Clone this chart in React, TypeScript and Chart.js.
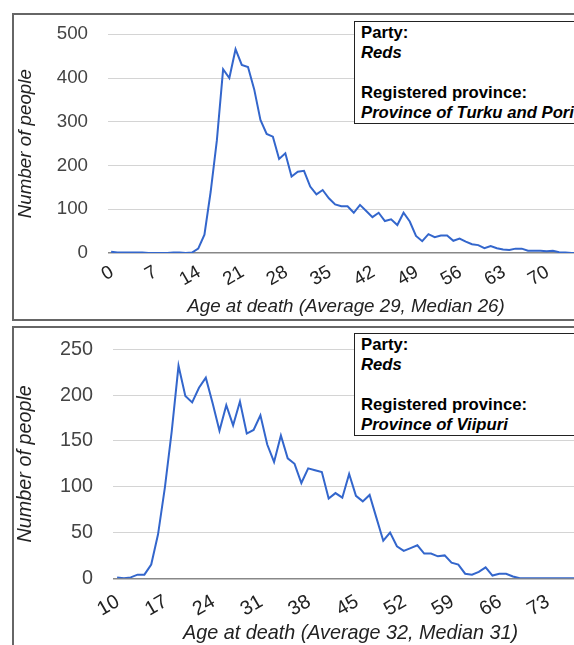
import React, { useEffect, useRef } from "react";
import { Chart, registerables } from "chart.js";

Chart.register(...registerables);

// ---- Data: Province of Turku and Pori ----
const turkuAges = [
  0, 1, 2, 3, 4, 5, 6, 7, 8, 9, 10, 11, 12, 13, 14, 15, 16, 17, 18, 19,
  20, 21, 22, 23, 24, 25, 26, 27, 28, 29, 30, 31, 32, 33, 34, 35, 36, 37, 38, 39,
  40, 41, 42, 43, 44, 45, 46, 47, 48, 49, 50, 51, 52, 53, 54, 55, 56, 57, 58, 59,
  60, 61, 62, 63, 64, 65, 66, 67, 68, 69, 70, 71, 72, 73, 74, 75, 76,
];
const turkuCounts = [
  3, 1, 1, 1, 1, 1, 0, 0, 0, 0, 1, 1, 0, 1, 10, 42, 140, 258, 420, 400,
  466, 430, 425, 374, 304, 272, 266, 215, 228, 175, 186, 188, 152, 134, 144, 125, 111, 107, 107, 92,
  110, 96, 82, 92, 73, 77, 64, 92, 72, 39, 27, 43, 36, 40, 40, 28, 33, 26, 20, 18,
  11, 16, 11, 8, 7, 10, 10, 5, 5, 5, 4, 5, 2, 1, 0, 0, 0,
];
const turkuXTicks = [0, 7, 14, 21, 28, 35, 42, 49, 56, 63, 70];
const turkuTitle = "Age at death (Average 29, Median 26)";
const turkuProvince = "Province of Turku and Pori";

// ---- Data: Province of Viipuri ----
const viipuriAges = [
  10, 11, 12, 13, 14, 15, 16, 17, 18, 19, 20, 21, 22, 23, 24, 25, 26, 27, 28, 29,
  30, 31, 32, 33, 34, 35, 36, 37, 38, 39, 40, 41, 42, 43, 44, 45, 46, 47, 48, 49,
  50, 51, 52, 53, 54, 55, 56, 57, 58, 59, 60, 61, 62, 63, 64, 65, 66, 67, 68, 69,
  70, 71, 72, 73, 74, 75, 76, 77, 78, 79,
];
const viipuriCounts = [
  1, 0, 1, 4, 4, 15, 48, 99, 160, 232, 199, 192, 208, 219, 191, 161, 189, 167, 193, 158,
  162, 178, 146, 127, 156, 131, 125, 104, 120, 118, 116, 87, 93, 88, 114, 90, 84, 91, 66, 41,
  50, 35, 30, 33, 36, 27, 27, 24, 25, 17, 15, 5, 4, 7, 12, 3, 5, 5, 2, 0,
  0, 0, 0, 0, 0, 0, 0, 0, 0, 0,
];
const viipuriXTicks = [10, 17, 24, 31, 38, 45, 52, 59, 66, 73];
const viipuriTitle = "Age at death (Average 32, Median 31)";
const viipuriProvince = "Province of Viipuri";

const partyName = "Reds";
const yTitle = "Number of people";

const FONT = "'Liberation Sans', Arial, Helvetica, sans-serif";

type Spec = {
  ages: number[];
  counts: number[];
  xTicks: number[];
  xMin: number;
  xMax: number;
  yMax: number;
  yStep: number;
  yLabelStep: number;
  title: string;
  fontSize: number;
  padTop: number;
  padRight: number;
  yWidth: number;
  xHeight: number;
  xTickPad: number;
  xTitlePad: number;
};

function makeConfig(s: Spec): any {
  const FS = s.fontSize;
  return {
    type: "line",
    data: {
      datasets: [
        {
          data: s.ages.map((a, i) => ({ x: a, y: s.counts[i] })),
          borderColor: "#3366cc",
          borderWidth: 2,
          pointRadius: 0,
          tension: 0,
          fill: false,
        },
      ],
    },
    options: {
      animation: false,
      responsive: false,
      devicePixelRatio: 1,
      layout: { padding: { top: s.padTop, right: s.padRight, left: 0, bottom: 0 } },
      plugins: { legend: { display: false }, tooltip: { enabled: false } },
      scales: {
        x: {
          type: "linear",
          bounds: "data",
          min: s.xMin,
          max: s.xMax,
          afterBuildTicks: (sc: any) => {
            sc.ticks = s.xTicks.map((v) => ({ value: v }));
          },
          afterFit: (sc: any) => {
            sc.height = s.xHeight;
            sc.paddingLeft = 0;
            sc.paddingRight = 0;
          },
          grid: { display: false, drawTicks: false },
          border: { display: false },
          ticks: {
            autoSkip: false,
            minRotation: 30,
            maxRotation: 30,
            padding: s.xTickPad,
            labelOffset: 1,
            color: "#222",
            font: { family: FONT, size: FS },
            callback: (v: any) => String(v),
          },
          title: {
            display: true,
            text: s.title,
            color: "#222",
            font: { family: FONT, size: FS, style: "italic" },
            padding: { top: 0, bottom: s.xTitlePad },
          },
        },
        y: {
          min: 0,
          max: s.yMax,
          afterFit: (sc: any) => {
            sc.width = s.yWidth;
            sc.paddingTop = 0;
            sc.paddingBottom = 0;
          },
          border: { display: false },
          grid: {
            drawTicks: false,
            color: (ctx: any) => {
              const v = ctx.tick ? ctx.tick.value : 1;
              if (v === 0) return "#888";
              return v % s.yLabelStep === 0 ? "#d4d4d4" : "#ececec";
            },
            lineWidth: (ctx: any) => (ctx.tick && ctx.tick.value === 0 ? 1.5 : 1),
          },
          ticks: {
            stepSize: s.yStep,
            padding: 20,
            color: "#444",
            font: { family: FONT, size: FS },
            callback: (v: any) => (v % s.yLabelStep === 0 ? String(v) : ""),
          },
          title: {
            display: true,
            text: yTitle,
            color: "#222",
            font: { family: FONT, size: FS, style: "italic" },
            padding: { top: FS > 19 ? 0 : 1, bottom: 0 },
          },
        },
      },
    },
  };
}

function LineChart(props: { spec: Spec; left: number; top: number; width: number; height: number }) {
  const ref = useRef<HTMLCanvasElement | null>(null);
  useEffect(() => {
    const chart = new Chart(ref.current as HTMLCanvasElement, makeConfig(props.spec));
    return () => chart.destroy();
  }, []);
  return (
    <canvas
      ref={ref}
      width={props.width}
      height={props.height}
      style={{
        position: "absolute",
        left: props.left,
        top: props.top,
        width: props.width,
        height: props.height,
      }}
    />
  );
}

function InfoBox(props: { left: number; top: number; height: number; province: string }) {
  return (
    <div
      style={{
        position: "absolute",
        left: props.left,
        top: props.top,
        width: 300,
        height: props.height,
        boxSizing: "border-box",
        border: "1.5px solid #222",
        background: "#fff",
        padding: "1px 6px",
        fontFamily: FONT,
        fontSize: 16.7,
        fontWeight: "bold",
        lineHeight: "20px",
        color: "#000",
        whiteSpace: "nowrap",
        zIndex: 2,
      }}
    >
      <div>Party:</div>
      <div style={{ fontStyle: "italic" }}>{partyName}</div>
      <div>&nbsp;</div>
      <div>Registered province:</div>
      <div style={{ fontStyle: "italic" }}>{props.province}</div>
    </div>
  );
}

const topSpec: Spec = {
  ages: turkuAges,
  counts: turkuCounts,
  xTicks: turkuXTicks,
  xMin: -0.5,
  xMax: 76,
  yMax: 500,
  yStep: 50,
  yLabelStep: 100,
  title: turkuTitle,
  fontSize: 18.75,
  padTop: 19.3,
  padRight: 30,
  yWidth: 94,
  xHeight: 66,
  xTickPad: 8,
  xTitlePad: 1,
};

const bottomSpec: Spec = {
  ages: viipuriAges,
  counts: viipuriCounts,
  xTicks: viipuriXTicks,
  xMin: 9.4,
  xMax: 79,
  yMax: 250,
  yStep: 25,
  yLabelStep: 50,
  title: viipuriTitle,
  fontSize: 19.8,
  padTop: 21.3,
  padRight: 26,
  yWidth: 99,
  xHeight: 66.7,
  xTickPad: 11.6,
  xTitlePad: 0,
};

export default function App() {
  return (
    <div
      style={{
        position: "fixed",
        left: 0,
        top: 0,
        width: 574,
        height: 645,
        overflow: "hidden",
        background: "#fff",
      }}
    >
      <div
        style={{
          position: "absolute",
          left: 12,
          top: 13,
          width: 640,
          height: 308,
          boxSizing: "border-box",
          border: "2px solid #666",
        }}
      />
      <div
        style={{
          position: "absolute",
          left: 12,
          top: 326,
          width: 640,
          height: 400,
          boxSizing: "border-box",
          border: "2px solid #666",
        }}
      />
      <LineChart spec={topSpec} left={14} top={15} width={600} height={304} />
      <LineChart spec={bottomSpec} left={14} top={328} width={600} height={317} />
      <InfoBox left={354} top={21} height={103} province={turkuProvince} />
      <InfoBox left={354} top={333} height={103} province={viipuriProvince} />
    </div>
  );
}
